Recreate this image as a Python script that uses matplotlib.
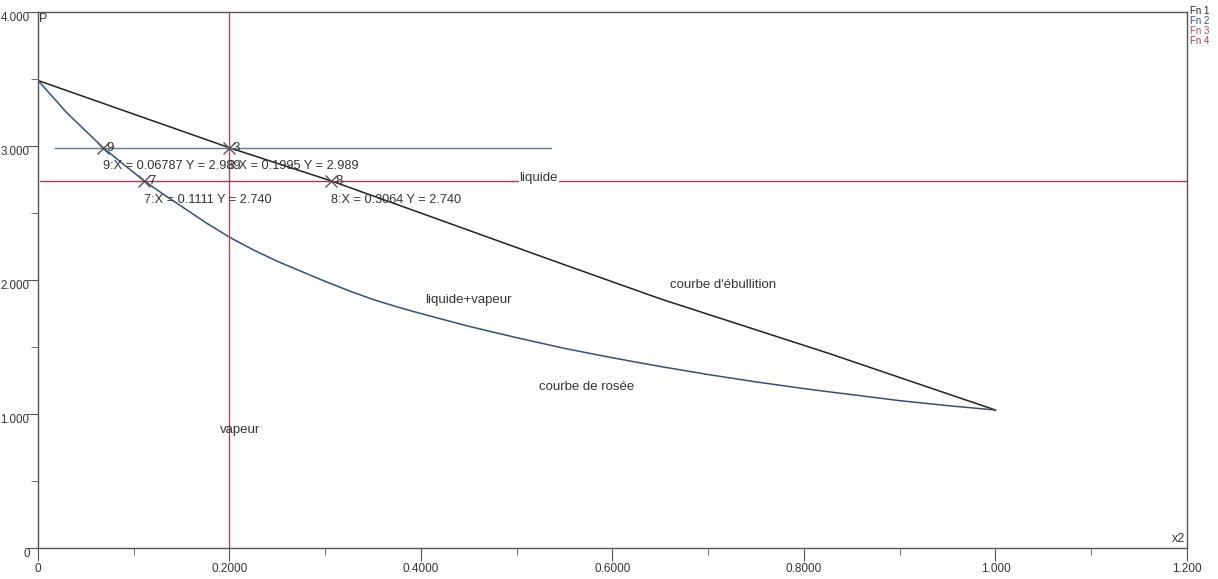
import numpy as np
import matplotlib.pyplot as plt

plt.rcParams['font.family'] = ['Liberation Sans', 'DejaVu Sans']

# courbe d'ebullition (Fn 1)
bub_x = [0.0, 0.1995, 0.3064, 0.40, 0.536, 0.65, 0.825, 1.0]
bub_y = [3.49, 2.989, 2.740, 2.50, 2.15, 1.86, 1.455, 1.03]

# courbe de rosee (Fn 2)
dew_x = [0.0, 0.03, 0.06787, 0.09, 0.1111, 0.13, 0.15, 0.175, 0.2, 0.225, 0.25, 0.275,
         0.3, 0.325, 0.35, 0.375, 0.4, 0.45, 0.5, 0.55, 0.6, 0.65, 0.7, 0.75, 0.8,
         0.825, 0.85, 0.9, 0.95, 1.0]
dew_y = [3.49, 3.25, 2.989, 2.86, 2.740, 2.645, 2.55, 2.43, 2.32, 2.225, 2.14, 2.065,
         1.99, 1.92, 1.855, 1.80, 1.75, 1.655, 1.57, 1.49, 1.42, 1.355, 1.295, 1.24, 1.19,
         1.167, 1.145, 1.10, 1.063, 1.03]

# horizontal / vertical reading lines
h1_x = [0.018, 0.536]
h1_y = [2.989, 2.989]
h2_x = [0.002, 1.2]
h2_y = [2.740, 2.740]
v_x = [0.1995, 0.1995]
v_y = [0.0, 4.0]

# marked points
pt_x = [0.06787, 0.1995, 0.1111, 0.3064]
pt_y = [2.989, 2.989, 2.740, 2.740]
pt_lab = ['9', '3', '7', '8']

c1 = '#222222'
c2 = '#34507a'
c3 = '#a0505c'
c4 = '#9c3a62'
tc = '#333333'

fig = plt.figure(figsize=(12.18, 5.79), dpi=100)
ax = fig.add_axes([0.0312, 0.0535, 0.9433, 0.9255])

ax.plot(bub_x, bub_y, color=c1, lw=1.1)
ax.plot(dew_x, dew_y, color=c2, lw=1.1)
ax.plot(h1_x, h1_y, color='#5a7898', lw=1.0)
ax.plot(h2_x, h2_y, color=c4, lw=1.0)
ax.plot(v_x, v_y, color=c3, lw=1.0)

ax.plot(pt_x, pt_y, 'x', color='#555555', ms=8, mew=1.0)
for x, y, l in zip(pt_x, pt_y, pt_lab):
    ax.text(x + 0.004, y, l, color=tc, fontsize=9.5, va='center', ha='left')

# coordinate annotations
ax.text(0.068, 2.85, '9:X = 0.06787 Y = 2.989', color=tc, fontsize=9.2, va='center')
ax.text(0.1985, 2.85, '3:X = 0.1995 Y = 2.989', color=tc, fontsize=9.2, va='center')
ax.text(0.111, 2.60, '7:X = 0.1111 Y = 2.740', color=tc, fontsize=9.2, va='center')
ax.text(0.306, 2.60, '8:X = 0.3064 Y = 2.740', color=tc, fontsize=9.2, va='center')

# region labels
ax.text(0.523, 2.76, 'liquide', color=tc, fontsize=9.5, ha='center', va='center',
        bbox=dict(facecolor='white', edgecolor='none', pad=0.5))
ax.text(0.716, 1.96, "courbe d'\u00e9bullition", color=tc, fontsize=9.5, ha='center', va='center')
ax.text(0.450, 1.85, 'liquide+vapeur', color=tc, fontsize=9.5, ha='center', va='center')
ax.text(0.573, 1.20, 'courbe de ros\u00e9e', color=tc, fontsize=9.5, ha='center', va='center')
ax.text(0.211, 0.88, 'vapeur', color=tc, fontsize=9.5, ha='center', va='center')

ax.set_xlim(0, 1.2)
ax.set_ylim(0, 4.0)

for s in ax.spines.values():
    s.set_color('#555555')
    s.set_linewidth(1.0)

xt = [0, 0.2, 0.4, 0.6, 0.8, 1.0, 1.2]
xl = ['0', '0.2000', '0.4000', '0.6000', '0.8000', '1.000', '1.200']
ax.set_xticks(xt)
ax.set_xticklabels(xl, fontsize=8.5, color=tc)
ax.set_xticks(np.arange(0.1, 1.2, 0.2), minor=True)
yt = [0, 1, 2, 3, 4]
yl = ['0', '1.000', '2.000', '3.000', '4.000']
ax.set_yticks(yt)
ax.set_yticklabels(yl, fontsize=8.3, color=tc, va='top')
ax.set_yticks([0.5, 1.5, 2.5, 3.5], minor=True)
ax.tick_params(axis='y', which='major', length=8, color='#555555', pad=-2)
ax.tick_params(axis='both', which='minor', length=5, color='#555555')
ax.tick_params(axis='x', which='major', length=9, color='#555555', pad=2)

ax.text(0.001, 3.99, 'P', fontsize=9, color=tc, ha='left', va='top')
ax.text(1.198, 0.02, 'x2', fontsize=9, color=tc, ha='right', va='bottom')

fn_col = [c1, c2, c3, c4]
for i, c in enumerate(fn_col):
    fig.text(0.977, 0.990 - i * 0.0172, 'Fn %d' % (i + 1), color=c, fontsize=7, va='top')

fig.savefig('out.png', dpi=100)
